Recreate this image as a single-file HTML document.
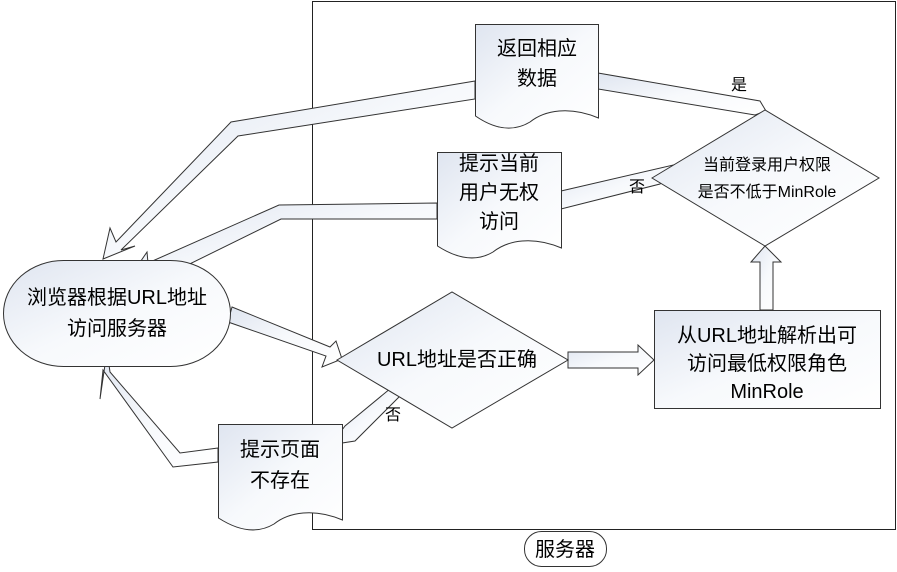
<!DOCTYPE html>
<html><head><meta charset="utf-8"><style>
body{margin:0;background:#fff}
svg{display:block}
text{font-family:"Liberation Sans","Noto Sans CJK SC",sans-serif;fill:#000}
</style></head><body>
<svg width="897" height="572" viewBox="0 0 897 572" xmlns="http://www.w3.org/2000/svg">
<defs>
<linearGradient id="g" x1="0" y1="0" x2="1" y2="1">
<stop offset="0" stop-color="#dfe5f0"/><stop offset="0.5" stop-color="#f7f9fc"/><stop offset="1" stop-color="#ffffff"/>
</linearGradient>
</defs>
<g stroke="#333" stroke-width="1" fill="url(#g)">
<rect x="312.5" y="1.5" width="583" height="528" fill="#fff" stroke="#222"/>
<polygon points="475,81 231,122 116,242 110,228 103,259 135,246 121,250 238,136 475,99"/>
<polygon points="437,203 279,205 148,263 147,252 130,277 160,287 151,283 281,219 437,219"/>
<polygon points="232,307 330,347 336,341 342,359 322,367 326,356 228,322"/>
<polygon points="218,448 180,453 110,372 107,351 100,399 103,370 173,467 218,462"/>
<polygon points="342,430 345,426 391,388 400,396 355,441 342,443"/>
<polygon points="568,352 638,352 638,345 654,360 638,375 638,368 568,368"/>
<polygon points="760,310 760,262 751,262 765,246 781,262 773,262 773,310"/>
<polygon points="598,73 760,101 766,111 755,115 598,89"/>
<polygon points="561,191 682,163 660,184 561,209"/>
<rect x="3.5" y="260.5" width="227" height="106" rx="60" ry="53"/>
<path d="M475.5,24.5 H598.5 V118 C570,106 545,110 530,122 C510,134 490,126 475.5,116 Z"/>
<path d="M437.5,152.5 H561.5 V248 C533,236 508,240 493,252 C473,264 453,256 437.5,246 Z"/>
<path d="M218.5,424.5 H342.5 V520 C314,508 289,512 274,524 C254,536 234,528 218.5,518 Z"/>
<polygon points="337,360 452,292 568,360 452,428"/>
<polygon points="652,178 765,110 879,178 765,246"/>
<rect x="654.5" y="310.5" width="226" height="98"/>
<rect x="524.5" y="531.5" width="82" height="35" rx="17" fill="#fff"/>
</g>
<g font-size="20" text-anchor="middle">
<text x="537" y="55">返回相应</text><text x="537" y="85">数据</text>
<text x="499" y="170">提示当前</text><text x="499" y="199">用户无权</text><text x="499" y="228">访问</text>
<text x="280" y="456">提示页面</text><text x="280" y="487">不存在</text>
<text x="117" y="304">浏览器根据URL地址</text><text x="117" y="335">访问服务器</text>
<text x="457" y="366">URL地址是否正确</text>
<text x="767" y="342">从URL地址解析出可</text><text x="767" y="370">访问最低权限角色</text><text x="767" y="398">MinRole</text>
<text x="565" y="556">服务器</text>
</g>
<g font-size="16" text-anchor="middle">
<text x="767" y="170">当前登录用户权限</text><text x="767" y="197">是否不低于MinRole</text>
<text x="739" y="90">是</text>
<text x="637" y="192">否</text>
<text x="393" y="420">否</text>
</g>
</svg>
</body></html>
